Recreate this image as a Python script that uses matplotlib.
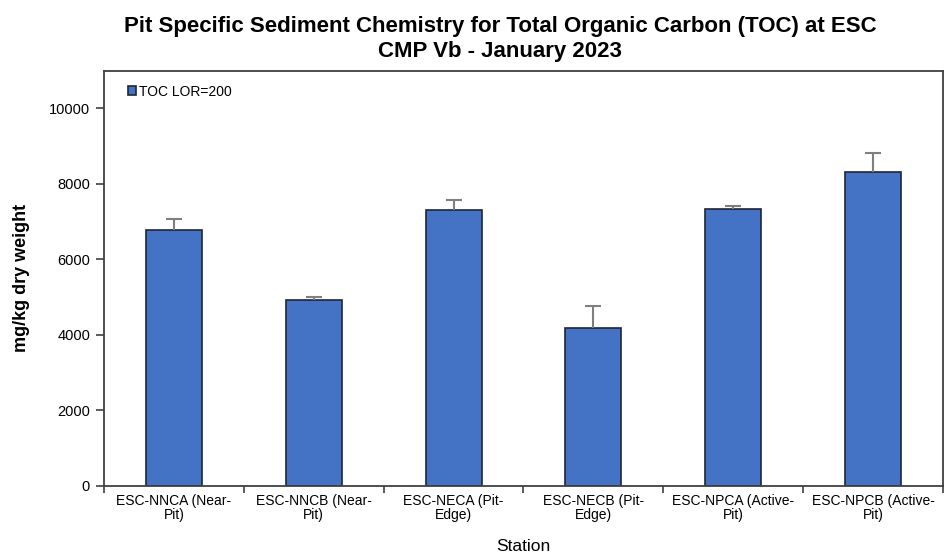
import numpy as np
import matplotlib.pyplot as plt

plt.rcParams['font.family'] = ['Liberation Sans', 'DejaVu Sans']

stations = ['ESC-NNCA (Near-\nPit)', 'ESC-NNCB (Near-\nPit)', 'ESC-NECA (Pit-\nEdge)',
            'ESC-NECB (Pit-\nEdge)', 'ESC-NPCA (Active-\nPit)', 'ESC-NPCB (Active-\nPit)']
toc = [6775, 4920, 7300, 4190, 7335, 8325]
toc_err = [285, 90, 285, 565, 70, 490]

fig = plt.figure(figsize=(9.46, 5.56), dpi=100)
ax = fig.add_axes([0.1099, 0.1259, 0.8869, 0.7469])

x = np.arange(len(stations))
ax.bar(x, toc, width=0.4, color='#4472C4', edgecolor='#1e2633', linewidth=1.2,
       label='TOC LOR=200', zorder=2)
eb = ax.errorbar(x, toc, yerr=[np.zeros(len(toc)), toc_err], fmt='none',
                 ecolor='#7f7f7f', elinewidth=1.5, capsize=6, capthick=1.5, zorder=3)
# only the upper cap, like the original
eb[1][0].set_visible(False)

ax.set_xlim(-0.5, len(stations) - 0.5)
ax.set_ylim(0, 11000)
ax.set_yticks(np.arange(0, 10001, 2000))
ax.set_xticks(x)
ax.set_xticklabels(stations, fontsize=10, linespacing=1.0)
ax.set_xticks(np.arange(len(stations) + 1) - 0.5, minor=True)
ax.tick_params(axis='x', which='major', length=0, pad=6)
ax.tick_params(axis='x', which='minor', length=5, width=1.2, color='#404040')
ax.tick_params(axis='y', length=6, width=1.2, color='#404040', labelsize=10.5, pad=4)

for s in ax.spines.values():
    s.set_color('#404040')
    s.set_linewidth(1.3)

ax.set_ylabel('mg/kg dry weight', fontsize=13, fontweight='bold', labelpad=14)
ax.set_xlabel('Station', fontsize=12.5, labelpad=12)
fig.suptitle('Pit Specific Sediment Chemistry for Total Organic Carbon (TOC) at ESC\nCMP Vb - January 2023',
             fontsize=16, fontweight='bold', x=0.529, y=0.972, linespacing=1.25)

ax.legend(loc='upper left', frameon=False, fontsize=10, handlelength=0.55, handleheight=0.6,
          handletextpad=0.25, borderaxespad=0.3, bbox_to_anchor=(0.017, 0.99))

fig.savefig('out.png', dpi=100)
